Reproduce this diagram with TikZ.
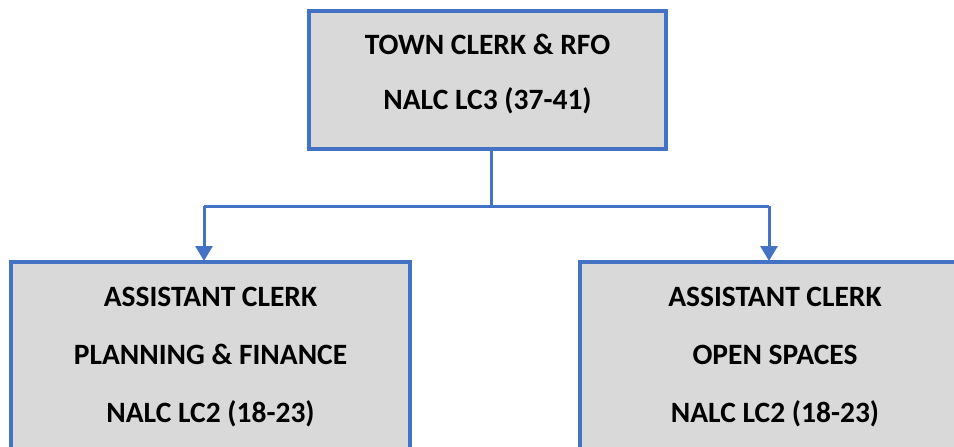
\documentclass[tikz,border=0pt]{standalone}
\usepackage{fontspec}
\setmainfont{Carlito}
\usetikzlibrary{arrows.meta}
\definecolor{boxblue}{HTML}{4472C4}
\definecolor{boxgray}{HTML}{D9D9D9}
\tikzset{
  orgbox/.style={draw=boxblue, line width=4pt, fill=boxgray, inner sep=0pt,
    align=center, font=\fontsize{29.5}{58}\selectfont\bfseries},
  conn/.style={draw=boxblue, line width=3pt},
  arr/.style={conn, -{Triangle[width=17pt,length=15pt]}, shorten >=-1pt}
}
\begin{document}
\begin{tikzpicture}[x=1pt,y=-1pt]
\useasboundingbox (0,0) rectangle (954,447);
\clip (0,0) rectangle (954,447);
\node[orgbox, minimum width=357pt, minimum height=138pt, text depth=16pt,
  font=\fontsize{29.5}{55}\selectfont\bfseries] (top) at (487.5,80) {TOWN CLERK \& RFO\\NALC LC3 (37-41)};
\node[orgbox, minimum width=399pt, minimum height=190pt] (left) at (210.5,357) {ASSISTANT CLERK\\PLANNING \& FINANCE\\NALC LC2 (18-23)};
\node[orgbox, minimum width=390pt, minimum height=190pt] (right) at (775,357) {ASSISTANT CLERK\\OPEN SPACES\\NALC LC2 (18-23)};
\coordinate (mid) at (491,206);
\coordinate (lt) at (204,206);
\coordinate (rt) at (769,206);
\draw[conn] (top.south -| mid) -- (mid);
\draw[conn] (lt) -- (rt);
\draw[arr] (lt) -- (lt |- left.north);
\draw[arr] (rt) -- (rt |- right.north);
\end{tikzpicture}
\end{document}
